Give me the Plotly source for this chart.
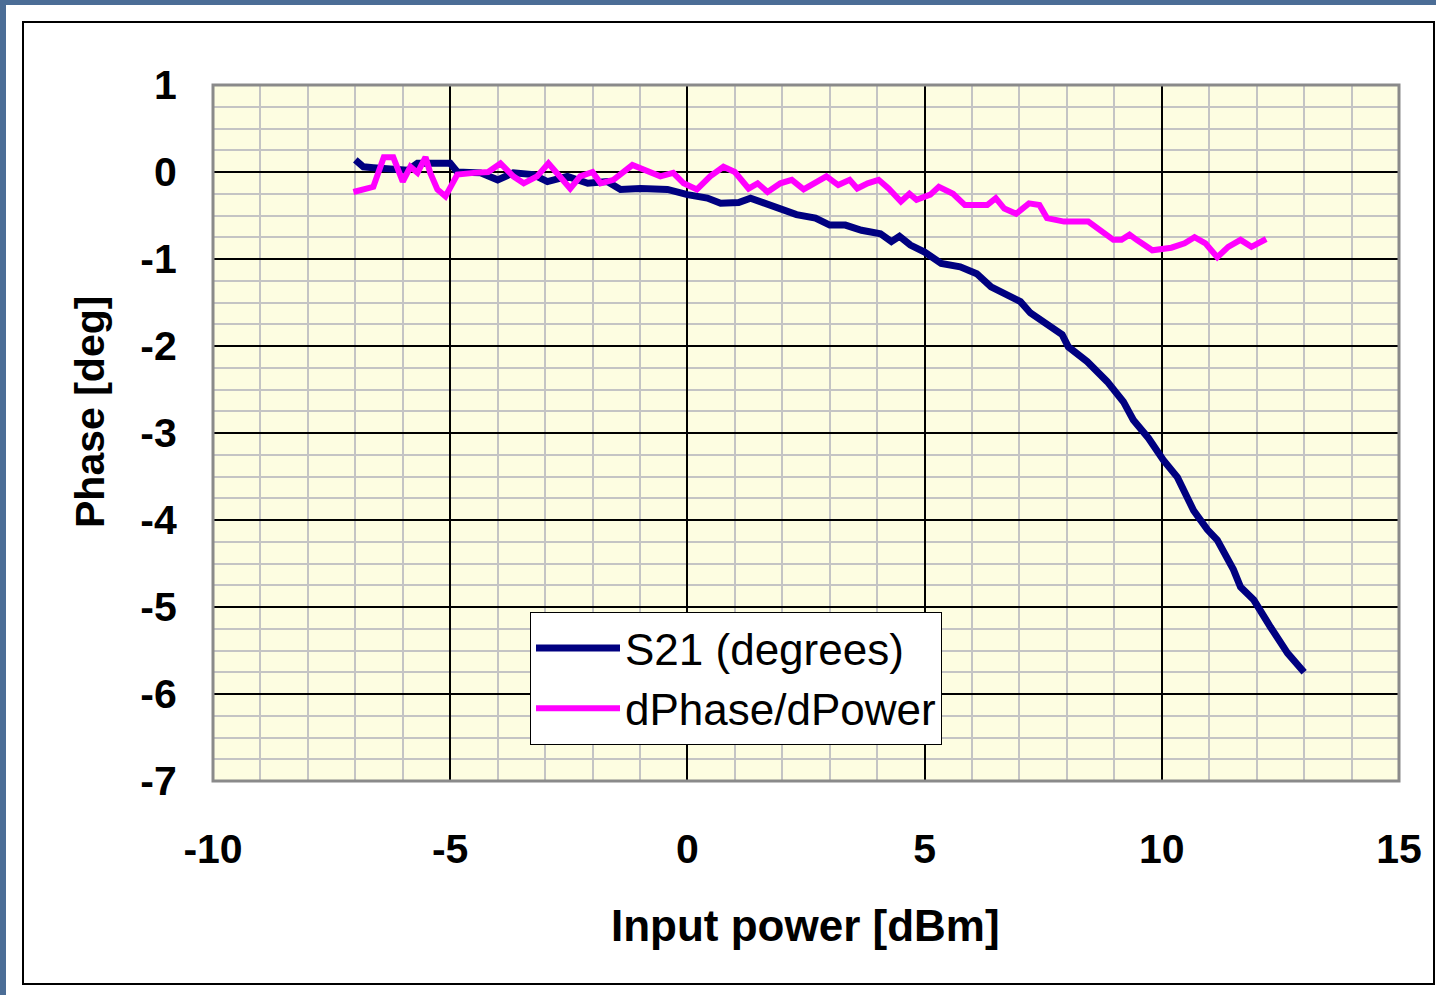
import plotly.graph_objects as go

# ---- data ----
s21_x = [-7.0, -6.83, -6.62, -6.2, -5.9, -5.69, -5.27, -5.0, -4.85, -4.36, -4.0, -3.67, -3.25,
         -2.95, -2.53, -2.1, -1.69, -1.41, -0.99, -0.42, 0.0, 0.42, 0.7, 1.08, 1.33, 1.73, 2.05,
         2.3, 2.7, 3.0, 3.33, 3.67, 4.07, 4.3, 4.47, 4.7, 5.0, 5.35, 5.75, 6.1, 6.4, 6.6, 7.02,
         7.23, 7.5, 7.9, 8.03, 8.43, 8.85, 9.19, 9.4, 9.72, 10.03, 10.33, 10.67, 10.96, 11.17,
         11.51, 11.66, 11.94, 12.29, 12.65, 13.0]
s21_y = [0.14, 0.06, 0.05, 0.04, 0.02, 0.1, 0.1, 0.1, 0.0, -0.01, -0.09, -0.01, -0.03,
         -0.11, -0.05, -0.13, -0.11, -0.2, -0.19, -0.2, -0.26, -0.3, -0.36, -0.35, -0.3, -0.38, -0.44,
         -0.49, -0.53, -0.61, -0.61, -0.67, -0.71, -0.8, -0.74, -0.84, -0.92, -1.05, -1.09, -1.17, -1.32, -1.38, -1.49,
         -1.62, -1.72, -1.87, -2.01, -2.18, -2.41, -2.64, -2.85, -3.06, -3.31, -3.51, -3.89, -4.11, -4.23,
         -4.57, -4.77, -4.92, -5.23, -5.53, -5.75]

dphase_x = [-7.04, -6.62, -6.4, -6.2, -6.0, -5.84, -5.69, -5.52, -5.42, -5.27, -5.1, -4.85, -4.5,
            -4.2, -3.94, -3.67, -3.45, -3.17, -2.93, -2.68, -2.47, -2.26, -2.0, -1.83, -1.56, -1.16,
            -0.84, -0.57, -0.3, -0.08, 0.2, 0.48, 0.76, 1.0, 1.29, 1.48, 1.69, 1.96, 2.2, 2.45, 2.93,
            3.18, 3.42, 3.58, 3.8, 4.03, 4.24, 4.5, 4.68, 4.83, 5.12, 5.3, 5.6, 5.85, 6.32, 6.5, 6.68,
            6.93, 7.2, 7.42, 7.58, 7.94, 8.45, 8.67, 8.98, 9.15, 9.32, 9.47, 9.8, 10.2, 10.48, 10.69,
            10.92, 11.17, 11.4, 11.66, 11.89, 12.2]
dphase_y = [-0.23, -0.17, 0.17, 0.17, -0.11, 0.06, -0.01, 0.17, -0.01, -0.2, -0.28, -0.03, -0.01,
            0.0, 0.1, -0.05, -0.13, -0.05, 0.1, -0.05, -0.19, -0.05, 0.0, -0.13, -0.09, 0.08,
            0.0, -0.05, -0.01, -0.13, -0.2, -0.05, 0.06, 0.0, -0.19, -0.13, -0.23, -0.13, -0.09, -0.2, -0.05,
            -0.15, -0.09, -0.19, -0.13, -0.09, -0.19, -0.34, -0.25, -0.32, -0.26, -0.17, -0.25, -0.38, -0.38, -0.3, -0.42,
            -0.48, -0.36, -0.38, -0.53, -0.57, -0.57, -0.65, -0.78, -0.78, -0.72, -0.78, -0.9, -0.87, -0.82, -0.75,
            -0.82, -0.98, -0.86, -0.78, -0.86, -0.77]

x_tickvals = [-10, -5, 0, 5, 10, 15]
x_ticktext = ["-10", "-5", "0", "5", "10", "15"]
y_tickvals = [1, 0, -1, -2, -3, -4, -5, -6, -7]
y_ticktext = ["1", "0", "-1", "-2", "-3", "-4", "-5", "-6", "-7"]

W, H = 1436, 995
FONT = "Liberation Sans, Arial, sans-serif"

def px(xp):
    return xp / W

def py(yp):
    return 1 - yp / H

fig = go.Figure()
fig.add_trace(go.Scatter(x=s21_x, y=s21_y, mode="lines", name="S21 (degrees)",
                         line=dict(color="#000080", width=7)))
fig.add_trace(go.Scatter(x=dphase_x, y=dphase_y, mode="lines", name="dPhase/dPower",
                         line=dict(color="#FF00FF", width=6)))

tickfont = dict(family=FONT, size=41, color="black", weight="bold")

fig.update_layout(
    width=W, height=H,
    margin=dict(l=0, r=0, t=0, b=0, autoexpand=False),
    paper_bgcolor="#4b6d96",
    plot_bgcolor="rgba(0,0,0,0)",
    showlegend=True,
    legend=dict(x=px(530), y=py(612), xanchor="left", yanchor="top",
                bgcolor="white", bordercolor="black", borderwidth=1,
                font=dict(family=FONT, size=44, color="black"),
                itemwidth=84, tracegroupgap=0),
    xaxis=dict(domain=[px(213), px(1399)], range=[-10, 15], automargin=False,
               tickmode="array", tickvals=x_tickvals, ticktext=x_ticktext,
               tickfont=tickfont, ticks="outside", ticklen=32, tickcolor="rgba(0,0,0,0)",
               showgrid=True, gridcolor="black", gridwidth=1.5, zeroline=False,
               minor=dict(dtick=1, showgrid=True, gridcolor="#c4c4c4", gridwidth=2),
               showline=False),
    yaxis=dict(domain=[py(781), py(85)], range=[-7, 1], automargin=False,
               tickmode="array", tickvals=y_tickvals, ticktext=y_ticktext,
               tickfont=tickfont, ticks="outside", ticklen=27, tickcolor="rgba(0,0,0,0)",
               showgrid=True, gridcolor="black", gridwidth=1.5, zeroline=False,
               minor=dict(dtick=0.25, showgrid=True, gridcolor="#c4c4c4", gridwidth=2),
               showline=False),
    shapes=[
        dict(type="rect", xref="paper", yref="paper", x0=px(6), x1=1.01, y0=-0.01, y1=py(5),
             fillcolor="white", line=dict(width=0), layer="below"),
        dict(type="rect", xref="paper", yref="paper", x0=px(23), x1=px(1434), y0=py(984), y1=py(22),
             fillcolor="white", line=dict(color="black", width=2), layer="below"),
        dict(type="rect", xref="paper", yref="paper", x0=px(213), x1=px(1399), y0=py(781), y1=py(85),
             fillcolor="#fdfde1", line=dict(width=0), layer="below"),
        dict(type="rect", xref="paper", yref="paper", x0=px(213), x1=px(1399), y0=py(781), y1=py(85),
             fillcolor="rgba(0,0,0,0)", line=dict(color="#8a8a8a", width=3), layer="above"),
    ],
    annotations=[
        dict(text="Input power [dBm]", xref="paper", yref="paper", x=px(805), y=py(925),
             xanchor="center", yanchor="middle", showarrow=False,
             font=dict(family=FONT, size=44, color="black", weight="bold")),
        dict(text="Phase [deg]", xref="paper", yref="paper", x=px(90), y=py(412),
             xanchor="center", yanchor="middle", showarrow=False, textangle=-90,
             font=dict(family=FONT, size=41, color="black", weight="bold")),
    ],
)

fig.write_html("out.html", config={"displayModeBar": False},
               post_script="document.body.style.margin='0';")
